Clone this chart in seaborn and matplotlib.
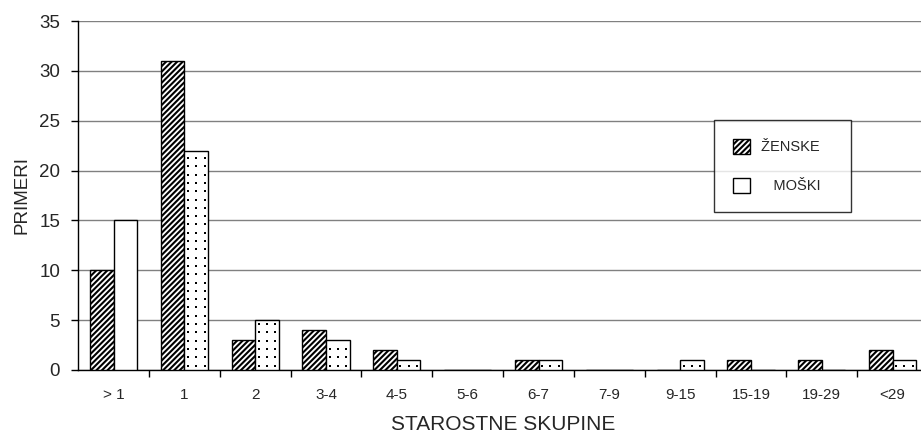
import matplotlib
matplotlib.use("Agg")
import matplotlib.pyplot as plt
from matplotlib.patches import Patch
import seaborn as sns
import pandas as pd
import numpy as np

categories = ["> 1", "1", "2", "3-4", "4-5", "5-6", "6-7", "7-9", "9-15", "15-19", "19-29", "<29"]
zenske = [10, 31, 3, 4, 2, 0, 1, 0, 0, 1, 1, 2]
moski = [15, 22, 5, 3, 1, 0, 1, 0, 1, 0, 0, 1]
series = ["ŽENSKE", "MOŠKI"]

df = pd.DataFrame({
    "skupina": categories * 2,
    "primeri": zenske + moski,
    "spol": [series[0]] * len(categories) + [series[1]] * len(categories),
})

sns.set_theme(style="white")
plt.rcParams["font.family"] = ["Liberation Sans", "DejaVu Sans"]
plt.rcParams["hatch.linewidth"] = 1.5

W, H = 921, 434
fig = plt.figure(figsize=(W / 100, H / 100), dpi=100)
ax = fig.add_axes([78.2 / W, 1 - 370 / H, (928 - 78.2) / W, (370 - 21) / H])

sns.barplot(data=df, x="skupina", y="primeri", hue="spol", order=categories,
            hue_order=series, palette=["white", "white"], width=0.667,
            edgecolor="black", linewidth=1.0, saturation=1, ax=ax, legend=False)

for bar in ax.containers[0]:
    bar.set_hatch("//////")
    bar.set_zorder(3)
for bar in ax.containers[1]:
    bar.set_zorder(3)

ax.set_ylim(0, 35)
ax.set_xlim(-0.5, len(categories) - 0.5)
ax.set_yticks(range(0, 36, 5))
ax.yaxis.grid(True, color="#808080", linewidth=1.0)
ax.set_axisbelow(True)

# sparse dot fill on the male bars (all but the first group)
fig.canvas.draw()
to_px = ax.transData
to_data = ax.transData.inverted()
step = 8.3
for i, bar in enumerate(ax.containers[1]):
    if i == 0 or bar.get_height() <= 0:
        continue
    x0, y0 = to_px.transform((bar.get_x(), 0))
    x1, y1 = to_px.transform((bar.get_x() + bar.get_width(), bar.get_height()))
    xs = np.arange(x0 + 3.5, x1 - 1.5, step)
    ys = np.arange(y0 + 4.5, y1 - 1.5, step)
    gx, gy = np.meshgrid(xs, ys)
    pts = to_data.transform(np.column_stack([gx.ravel(), gy.ravel()]))
    ax.scatter(pts[:, 0], pts[:, 1], s=0.9, color="black", marker="s",
               linewidths=0, zorder=4)

# tick marks at category boundaries, labels at centres
ax.set_xticks([i + 0.5 for i in range(len(categories) - 1)], minor=True)
ax.set_xticks(range(len(categories)))
ax.set_xticklabels(categories, fontsize=11)
ax.tick_params(axis="x", which="major", length=0, pad=13)
ax.tick_params(axis="x", which="minor", length=5, width=1, color="black", direction="out", bottom=True)
ax.tick_params(axis="y", length=5, width=1, color="black", direction="out", left=True, labelsize=13.5, pad=8)

for s in ["top", "right"]:
    ax.spines[s].set_visible(False)
for s in ["left", "bottom"]:
    ax.spines[s].set_color("black")
    ax.spines[s].set_linewidth(1.0)

ax.set_xlabel("STAROSTNE SKUPINE", fontsize=15, labelpad=9)
ax.set_ylabel("PRIMERI", fontsize=13.5, labelpad=6)

handles = [Patch(facecolor="white", edgecolor="black", hatch="//////", label=series[0] + "   "),
           Patch(facecolor="white", edgecolor="black", label="   " + series[1])]
leg = ax.legend(handles=handles, loc="upper left",
                bbox_to_anchor=((714 - 78.2) / (928 - 78.2), 1 - (120 - 21) / 349),
                frameon=True, fancybox=False, edgecolor="black", fontsize=10.5,
                handlelength=1.2, handleheight=1.2, labelspacing=1.6,
                borderpad=1.3, borderaxespad=0, handletextpad=0.75)
leg.get_frame().set_linewidth(1.0)
leg.set_zorder(5)

fig.savefig("out.png", dpi=100)
